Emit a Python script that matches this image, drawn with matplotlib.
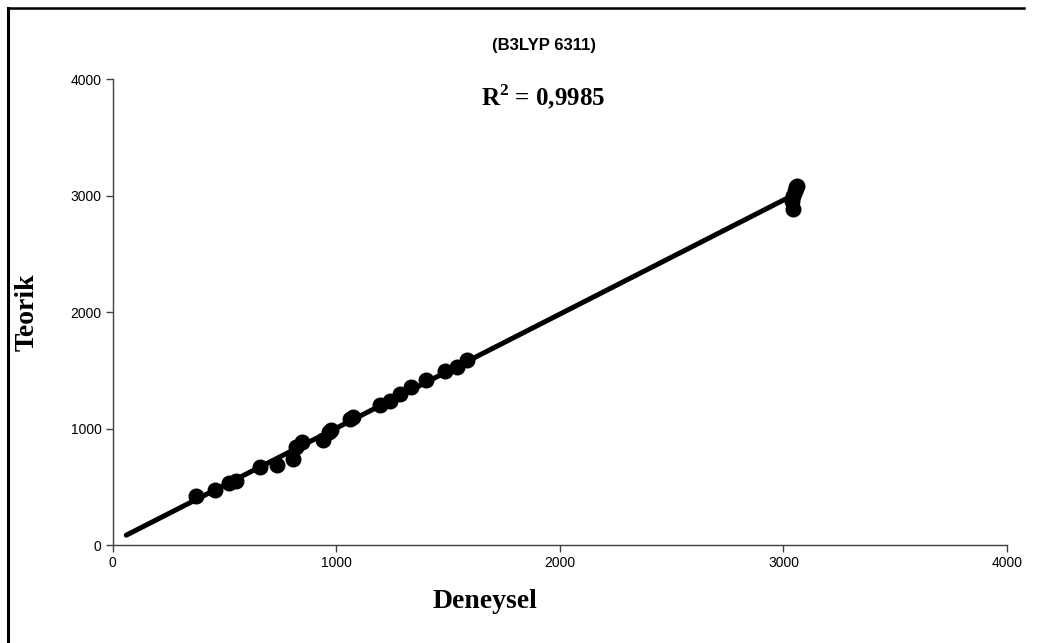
import numpy as np
from matplotlib import pyplot as plt
from matplotlib.lines import Line2D

plt.rcParams['mathtext.fontset'] = 'custom'
plt.rcParams['mathtext.bf'] = 'Liberation Serif:bold'
plt.rcParams['mathtext.rm'] = 'Liberation Serif:bold'

# deneysel ve teorik frekanslar
deneysel = [370, 456, 520, 550, 660, 735, 805, 820, 845, 940, 965, 975,
            1060, 1075, 1195, 1240, 1284, 1336, 1403, 1486, 1540, 1584,
            3040, 3045, 3050, 3055, 3060, 3045]
teorik = [420, 470, 530, 550, 670, 690, 740, 840, 880, 900, 970, 990,
          1080, 1100, 1200, 1240, 1300, 1360, 1420, 1490, 1530, 1590,
          2950, 3000, 3040, 3070, 3085, 2880]
trend_range = [60, 3080]
ticks = [0, 1000, 2000, 3000, 4000]

fig = plt.figure(figsize=(10.45, 6.43), dpi=100)
ax = fig.add_axes([0.108, 0.1524, 0.8556, 0.7247])

# dogrusal trend cizgisi
m, c = np.polyfit(deneysel, teorik, 1)
tx = np.array(trend_range)
ax.plot(tx, m * tx + c, color='k', lw=3.6, solid_capstyle='round', zorder=2)
ax.plot(deneysel, teorik, 'o', color='k', ms=10.5, zorder=3)

ax.set_xlim(0, 4000)
ax.set_ylim(0, 4000)
ax.set_xticks(ticks)
ax.set_yticks(ticks)
for s in ['top', 'right']:
    ax.spines[s].set_visible(False)
for s in ['left', 'bottom']:
    ax.spines[s].set_color('#404040')
    ax.spines[s].set_linewidth(1.0)
ax.tick_params(direction='out', length=5, width=1, color='#404040',
               labelsize=10, pad=3)
for lab in ax.get_xticklabels() + ax.get_yticklabels():
    lab.set_family('Liberation Sans')

ax.set_xlabel('Deneysel', family='Liberation Serif', fontweight='bold',
              fontsize=20, labelpad=14)
ax.xaxis.set_label_coords(0.416, -0.095)
ax.set_ylabel('Teorik', family='Liberation Serif', fontweight='bold',
              fontsize=20, labelpad=22)

fig.text(0.521, 0.930, '(B3LYP 6311)', family='Liberation Sans',
         fontweight='bold', fontsize=12, ha='center', va='center')
fig.text(0.520, 0.849, r'R$^{\mathbf{2}}$ = 0,9985', family='Liberation Serif',
         fontweight='bold', fontsize=18, ha='center', va='center')

# dis cerceve (sol ve ust cizgi)
fig.add_artist(Line2D([8 / 1045, 8 / 1045], [0, 1 - 8 / 643],
                      transform=fig.transFigure, color='k', lw=2.2))
fig.add_artist(Line2D([8 / 1045, 1024 / 1045], [1 - 8 / 643, 1 - 8 / 643],
                      transform=fig.transFigure, color='k', lw=1.8))

fig.savefig('out.png', dpi=100)
